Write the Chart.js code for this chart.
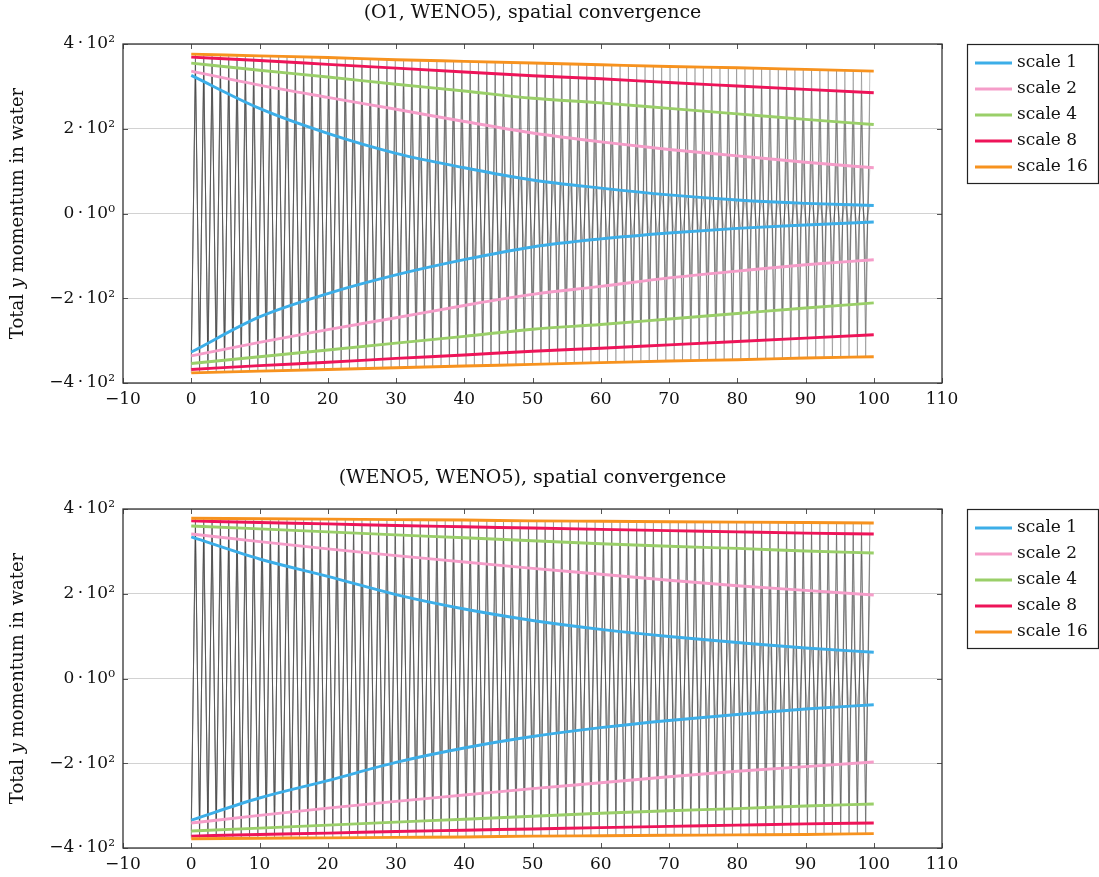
<!DOCTYPE html>
<html>
<head>
<meta charset="utf-8">
<script src="https://cdn.jsdelivr.net/npm/chart.js@4.4.0/dist/chart.umd.min.js"></script>
<style>
html,body{margin:0;padding:0;background:#fff;}
#wrap{position:relative;width:1099px;height:877px;overflow:hidden;}
.box{position:absolute;left:0;width:1099px;height:432px;}
</style>
</head>
<body>
<div id="wrap">
  <div class="box" style="top:0"><canvas id="topChart" width="1099" height="432"></canvas></div>
  <div class="box" style="top:465px"><canvas id="bottomChart" width="1099" height="432"></canvas></div>
</div>
<script>
"use strict";
const times=[0,10,20,30,40,50,60,70,80,90,100];
const scaleLabels=["scale 1","scale 2","scale 4","scale 8","scale 16"];
const scaleColors=["#3caee8","#f59dc9","#9acf69","#ee1459","#f7921e"];
// period of the gray oscillation
const oscPeriod=1.22;

// (O1, WENO5) envelopes
const o1Scale1Up=[326,248,189,142,108,79,60,44,32,24,19];
const o1Scale1Lo=[-327,-244,-189,-145,-109,-79,-60,-46,-35,-27,-20];
const o1Scale2Up=[336,303,274,246,217,190,169,151,136,121,108];
const o1Scale2Lo=[-336,-304,-274,-246,-217,-191,-172,-152,-136,-121,-109];
const o1Scale4Up=[355,338,322,305,289,272,261,248,235,222,210];
const o1Scale4Lo=[-354,-338,-322,-306,-290,-273,-262,-249,-236,-223,-211];
const o1Scale8Up=[369,361,352,343,334,325,318,309,301,293,285];
const o1Scale8Lo=[-368,-359,-351,-342,-334,-325,-318,-310,-302,-294,-286];
const o1Scale16Up=[376,372,368,363,359,355,351,347,344,340,336];
const o1Scale16Lo=[-376,-372,-368,-364,-360,-356,-352,-348,-345,-341,-338];

// (WENO5, WENO5) envelopes
const w5Scale1Up=[334,282,241,198,164,137,116,99,85,72,62];
const w5Scale1Lo=[-334,-282,-241,-198,-164,-137,-116,-99,-85,-72,-62];
const w5Scale2Up=[341,323,306,290,275,260,246,232,219,208,197];
const w5Scale2Lo=[-341,-323,-306,-290,-275,-260,-246,-232,-219,-208,-197];
const w5Scale4Up=[360,353,346,339,332,325,318,312,307,301,296];
const w5Scale4Lo=[-360,-353,-346,-339,-332,-325,-318,-312,-307,-301,-296];
const w5Scale8Up=[372,368,365,361,358,355,352,349,346,343,341];
const w5Scale8Lo=[-372,-368,-365,-361,-358,-355,-352,-349,-346,-343,-341];
const w5Scale16Up=[378,377,376,375,374,372,371,370,369,368,367];
const w5Scale16Lo=[-378,-377,-376,-375,-374,-372,-371,-370,-369,-368,-366];

const FONT="DejaVu Serif";

function toPoints(arr){
    return arr.map((v,i)=>({x:times[i],y:v}));
}
// gray signal: swings between lower and upper envelope each half period
function oscillation(up,lo){
    const pts=[];
    const half=oscPeriod/2;
    for(let k=0;k*half<=100+1e-9;k++){
        const t=k*half;
        const i=Math.min(Math.floor(t/10),9);
        const f=(t-times[i])/10;
        const src=k%2===0?lo:up;
        pts.push({x:t,y:src[i]+(src[i+1]-src[i])*f});
    }
    return pts;
}

function buildDatasets(ups,los){
    const ds=[];
    for(let i=0;i<ups.length;i++){
        ds.push({data:oscillation(ups[i],los[i]),borderColor:"rgba(60,60,60,0.36)",borderWidth:0.9,pointRadius:0,order:10,tension:0});
    }
    for(let i=0;i<ups.length;i++){
        ds.push({label:scaleLabels[i],legend:true,data:toPoints(ups[i]),borderColor:scaleColors[i],borderWidth:2.9,pointRadius:0,cubicInterpolationMode:"monotone",order:5-i});
        ds.push({label:scaleLabels[i],data:toPoints(los[i]),borderColor:scaleColors[i],borderWidth:2.9,pointRadius:0,cubicInterpolationMode:"monotone",order:5-i});
    }
    return ds;
}

//title, frame, inner ticks, y label and legend box like pgfplots
const pgfDecor={
    id:"pgfDecor",
    afterDraw(chart){
        const ctx=chart.ctx;const a=chart.chartArea;
        const xs=chart.scales.x;const ys=chart.scales.y;
        ctx.save();
        ctx.fillStyle="#111";ctx.font="19px '"+FONT+"'";
        ctx.textAlign="center";ctx.textBaseline="middle";
        ctx.fillText(chart.options.plotTitle,(a.left+a.right)/2,13);
        ctx.strokeStyle="#555";ctx.lineWidth=1;
        ctx.beginPath();
        for(const t of xs.ticks){
            const px=Math.round(xs.getPixelForValue(t.value))+0.5;
            ctx.moveTo(px,a.top);ctx.lineTo(px,a.top+5);
            ctx.moveTo(px,a.bottom);ctx.lineTo(px,a.bottom-5);
        }
        for(const t of ys.ticks){
            const py=Math.round(ys.getPixelForValue(t.value))+0.5;
            ctx.moveTo(a.left,py);ctx.lineTo(a.left+5,py);
            ctx.moveTo(a.right,py);ctx.lineTo(a.right-5,py);
        }
        ctx.stroke();
        ctx.strokeStyle="#333";ctx.lineWidth=1.3;
        ctx.strokeRect(a.left,a.top,a.right-a.left,a.bottom-a.top);
        //y axis title with italic y
        ctx.textAlign="left";
        ctx.translate(18,(a.top+a.bottom)/2);
        ctx.rotate(-Math.PI/2);
        const parts=[["Total ","normal"],["y","italic"],[" momentum in water","normal"]];
        let w=0;
        for(const p of parts){ctx.font=p[1]+" 18px '"+FONT+"'";w+=ctx.measureText(p[0]).width;}
        let x=-w/2;
        for(const p of parts){ctx.font=p[1]+" 18px '"+FONT+"'";ctx.fillText(p[0],x,0);x+=ctx.measureText(p[0]).width;}
        ctx.restore();
        //legend
        ctx.save();
        const items=chart.data.datasets.filter(d=>d.legend);
        const bx=a.right+25,by=a.top,bw=131,bh=139;
        ctx.fillStyle="#fff";ctx.fillRect(bx,by,bw,bh);
        ctx.strokeStyle="#222";ctx.lineWidth=1.2;
        ctx.strokeRect(bx+0.5,by+0.5,bw,bh);
        ctx.font="17px '"+FONT+"'";ctx.textBaseline="middle";
        items.forEach((d,i)=>{
            const y=by+19+i*26;
            ctx.strokeStyle=d.borderColor;ctx.lineWidth=2.9;
            ctx.beginPath();ctx.moveTo(bx+8,y);ctx.lineTo(bx+45,y);ctx.stroke();
            ctx.fillStyle="#111";
            ctx.fillText(d.label,bx+50,y);
        });
        ctx.restore();
    }
};

function makeChart(id,title,ups,los){
    return new Chart(document.getElementById(id),{
        type:"line",
        data:{datasets:buildDatasets(ups,los)},
        options:{
            plotTitle:title,
            responsive:false,
            animation:false,
            layout:{padding:{left:0,right:157,top:44,bottom:0}},
            plugins:{
                legend:{display:false},
                tooltip:{enabled:false},
                title:{display:false}
            },
            scales:{
                x:{
                    type:"linear",min:-10,max:110,
                    ticks:{stepSize:10,color:"#111",padding:6,font:{family:FONT,size:17},
                        callback:v=>(v<0?"\u2212":"")+Math.abs(v)},
                    grid:{display:false,drawTicks:false},
                    border:{display:false},
                    afterFit:s=>{s.height=49;}
                },
                y:{
                    min:-400,max:400,
                    ticks:{stepSize:200,color:"#111",padding:8,font:{family:FONT,size:17},
                        callback:v=>v===0?"0\u2009\u00b7\u200910\u2070":(v<0?"\u2212":"")+Math.abs(v/100)+"\u2009\u00b7\u200910\u00b2"},
                    grid:{color:"#d2d2d2",drawTicks:false},
                    border:{display:false},
                    afterFit:s=>{s.width=123;}
                }
            }
        },
        plugins:[pgfDecor]
    });
}

makeChart("topChart","(O1, WENO5), spatial convergence",
    [o1Scale1Up,o1Scale2Up,o1Scale4Up,o1Scale8Up,o1Scale16Up],
    [o1Scale1Lo,o1Scale2Lo,o1Scale4Lo,o1Scale8Lo,o1Scale16Lo]);
makeChart("bottomChart","(WENO5, WENO5), spatial convergence",
    [w5Scale1Up,w5Scale2Up,w5Scale4Up,w5Scale8Up,w5Scale16Up],
    [w5Scale1Lo,w5Scale2Lo,w5Scale4Lo,w5Scale8Lo,w5Scale16Lo]);
</script>
</body>
</html>
